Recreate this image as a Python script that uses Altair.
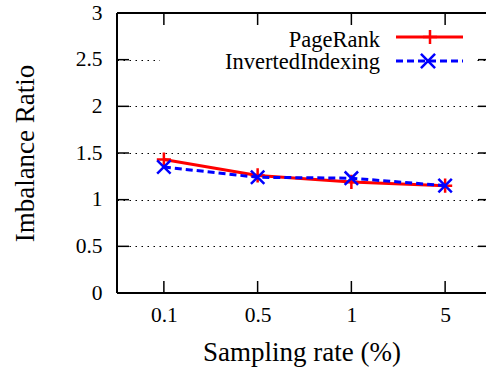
import altair as alt
import pandas as pd

# Sampling rates (%) and the imbalance ratio measured for each workload
rates = ["0.1", "0.5", "1", "5"]
pagerank = [1.43, 1.26, 1.19, 1.15]
inverted_indexing = [1.35, 1.24, 1.23, 1.15]
y_ticks = [0, 0.5, 1, 1.5, 2, 2.5, 3]

LABEL_FONT = "serif"
TITLE_FONT = "Times New Roman"
LEGEND_FONT = "Liberation Serif"
RED = "#ff0000"
BLUE = "#0000ff"
PLUS = "M-1,0L1,0M0,-1L0,1"
CROSS = "M-1,-1L1,1M-1,1L1,-1"

W, H = 369, 280

idx = list(range(len(rates)))
pr_df = pd.DataFrame({"i": idx, "rate": rates, "ratio": pagerank})
ii_df = pd.DataFrame({"i": idx, "rate": rates, "ratio": inverted_indexing})
yt_df = pd.DataFrame({"v": y_ticks})
xt_df = pd.DataFrame({"i": idx})
one = pd.DataFrame({"k": [0]})

label_expr = "[" + ",".join(f"'{r}'" for r in rates) + "][datum.value]"

x_scale = alt.Scale(domain=[-0.5, 3.436], nice=False, zero=False)
y_scale = alt.Scale(domain=[0, 3], nice=False, zero=True)

x_enc = alt.X(
    "i:Q",
    scale=x_scale,
    axis=alt.Axis(
        values=idx,
        labelExpr=label_expr,
        title="Sampling rate (%)",
        titleFont=TITLE_FONT,
        titleFontSize=27,
        titleFontWeight="normal",
        titleColor="black",
        titleBaseline="alphabetic",
        titleY=67,
        labelFont=LABEL_FONT,
        labelFontSize=21.5,
        labelColor="black",
        labelPadding=11,
        ticks=False,
        tickSize=0,
        domain=False,
        grid=False,
    ),
)
y_enc = alt.Y(
    "ratio:Q",
    scale=y_scale,
    axis=alt.Axis(
        values=y_ticks,
        format="~g",
        title="Imbalance Ratio",
        titleFont=TITLE_FONT,
        titleFontSize=27,
        titleFontWeight="normal",
        titleColor="black",
        titleAngle=270,
        titleBaseline="alphabetic",
        titleAlign="center",
        titleX=-84,
        titleY=H / 2,
        labelFont=LABEL_FONT,
        labelFontSize=21.5,
        labelColor="black",
        labelPadding=15,
        labelBaseline="middle",
        ticks=False,
        tickSize=0,
        domain=False,
        grid=True,
        gridColor="black",
        gridDash=[1.5, 4.5],
        gridWidth=1,
        gridOpacity=1,
    ),
)

pr_line = alt.Chart(pr_df).mark_line(color=RED, strokeWidth=3).encode(x=x_enc, y=y_enc)
pr_pts = alt.Chart(pr_df).mark_point(
    shape=PLUS, filled=False, color=RED, strokeWidth=2.5, size=200, opacity=1
).encode(x="i:Q", y="ratio:Q")
ii_line = alt.Chart(ii_df).mark_line(
    color=BLUE, strokeWidth=3, strokeDash=[7, 4]
).encode(x="i:Q", y="ratio:Q")
ii_pts = alt.Chart(ii_df).mark_point(
    shape=CROSS, filled=False, color=BLUE, strokeWidth=2.5, size=180, opacity=1
).encode(x="i:Q", y="ratio:Q")

# Inward tick marks on all four sides
tick_style = dict(color="black", strokeWidth=1.5)
y_ticks_left = alt.Chart(yt_df).mark_rule(**tick_style).encode(
    y=alt.Y("v:Q", scale=y_scale), x=alt.value(0), x2=alt.value(12)
)
y_ticks_right = alt.Chart(yt_df).mark_rule(**tick_style).encode(
    y=alt.Y("v:Q", scale=y_scale), x=alt.value(W - 8), x2=alt.value(W)
)
x_ticks_bottom = alt.Chart(xt_df).mark_rule(**tick_style).encode(
    x=alt.X("i:Q", scale=x_scale), y=alt.value(H - 12), y2=alt.value(H)
)
x_ticks_top = alt.Chart(xt_df).mark_rule(**tick_style).encode(
    x=alt.X("i:Q", scale=x_scale), y=alt.value(0), y2=alt.value(12)
)

# Frame (left, top, bottom)
frame_style = dict(color="black", strokeWidth=2)
frame_left = alt.Chart(one).mark_rule(**frame_style).encode(
    x=alt.value(0), y=alt.value(0), y2=alt.value(H)
)
frame_top = alt.Chart(one).mark_rule(**frame_style).encode(
    x=alt.value(0), x2=alt.value(W), y=alt.value(0)
)
frame_bottom = alt.Chart(one).mark_rule(**frame_style).encode(
    x=alt.value(0), x2=alt.value(W), y=alt.value(H)
)

# Legend box with labels on the left and samples on the right
legend_bg = alt.Chart(one).mark_rect(color="white").encode(
    x=alt.value(43), x2=alt.value(360), y=alt.value(14), y2=alt.value(70)
)
text_style = dict(
    font=LEGEND_FONT, fontSize=22.5, fontWeight="normal", color="black",
    align="right", baseline="alphabetic",
)
leg_txt1 = alt.Chart(one).mark_text(text="PageRank", **text_style).encode(
    x=alt.value(263), y=alt.value(34)
)
leg_txt2 = alt.Chart(one).mark_text(text="InvertedIndexing", **text_style).encode(
    x=alt.value(263), y=alt.value(55.5)
)
leg_line1 = alt.Chart(one).mark_rule(color=RED, strokeWidth=3).encode(
    x=alt.value(279), x2=alt.value(346), y=alt.value(24)
)
leg_line2 = alt.Chart(one).mark_rule(color=BLUE, strokeWidth=3, strokeDash=[7, 4]).encode(
    x=alt.value(279), x2=alt.value(346), y=alt.value(48)
)
leg_pt1 = alt.Chart(one).mark_point(
    shape=PLUS, filled=False, color=RED, strokeWidth=2.5, size=200, opacity=1
).encode(x=alt.value(313), y=alt.value(24))
leg_pt2 = alt.Chart(one).mark_point(
    shape=CROSS, filled=False, color=BLUE, strokeWidth=2.5, size=200, opacity=1
).encode(x=alt.value(311), y=alt.value(48))

chart = alt.layer(
    pr_line,
    pr_pts,
    ii_line,
    ii_pts,
    legend_bg,
    leg_txt1,
    leg_txt2,
    leg_line1,
    leg_pt1,
    leg_line2,
    leg_pt2,
    y_ticks_left,
    y_ticks_right,
    x_ticks_bottom,
    x_ticks_top,
    frame_left,
    frame_top,
    frame_bottom,
).properties(
    width=W,
    height=H,
    autosize=alt.AutoSizeParams(type="none"),
    padding={"left": 117, "top": 13, "right": 0, "bottom": 75},
    background="white",
).configure(font="Liberation Serif").configure_view(strokeWidth=0)

chart.save("out.html", embed_options={"renderer": "svg", "actions": False})
